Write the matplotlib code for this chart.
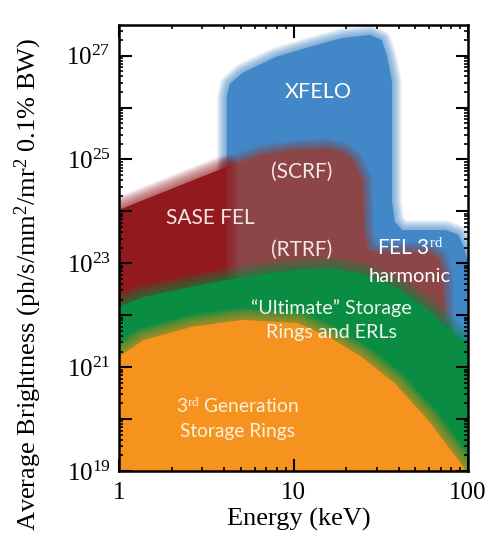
import numpy as np
import matplotlib
matplotlib.use("Agg")
import matplotlib.pyplot as plt
from matplotlib import ticker

plt.rcParams['mathtext.fontset'] = 'custom'
plt.rcParams['mathtext.rm'] = 'Liberation Serif'
plt.rcParams['mathtext.it'] = 'Liberation Serif:italic'

# outlines of each source region: energy (keV) and log10 brightness
xfelo_E = [4.14, 4.14, 4.3, 5.1, 8.0, 12.4, 19, 27.5, 32, 34.3, 36.7, 36.7, 38, 42, 75, 88, 95, 110, 110]
xfelo_B = [21.5, 26.2, 26.45, 26.67, 26.98, 27.17, 27.34, 27.4, 27.3, 27.0, 26.5, 24.2, 23.8, 23.64, 23.64, 23.55, 23.3, 22.5, 21.5]

linac_E = [4.14, 4.14, 6.5, 10, 15.5, 19, 22, 25, 25.5, 27, 30, 60, 68, 72, 73, 73]
linac_B = [21.5, 24.86, 25.09, 25.19, 25.22, 25.15, 25.0, 24.6, 23.6, 23.25, 23.22, 23.22, 23.1, 22.8, 22.2, 21.5]

sase_E = [0.9, 0.9, 4.14, 4.14]
sase_B = [21.5, 23.97, 24.86, 21.5]

ult_E = [0.9, 1, 1.38, 2.63, 4.17, 6.3, 10.5, 15.8, 24.5, 38, 59, 85, 100, 110, 110, 0.9]
ult_B = [22.17, 22.17, 22.35, 22.55, 22.68, 22.78, 22.87, 22.9, 22.8, 22.55, 22.1, 21.6, 21.45, 21.3, 18.5, 18.5]

gen3_E = [0.9, 1, 1.38, 2.63, 5.1, 10.5, 15.8, 24.5, 38, 59, 85, 100, 110, 0.9]
gen3_B = [21.1, 21.2, 21.52, 21.78, 21.91, 21.85, 21.59, 21.2, 20.69, 19.98, 19.28, 18.95, 18.5, 18.5]

regions = [
    (xfelo_E, xfelo_B, '#4287c8', 14),
    (linac_E, linac_B, '#8c4648', 14),
    (sase_E, sase_B, '#921a1e', 18),
    (ult_E, ult_B, '#0a8c42', 18),
    (gen3_E, gen3_B, '#f5931e', 18),
]

labels = [
    ('XFELO', 13.8, 26.30, 15.5, 'white'),
    ('(SCRF)', 11.2, 24.76, 15, '#f4e6e6'),
    ('SASE FEL', 3.32, 23.87, 15, '#f4e6e6'),
    ('(RTRF)', 11.2, 23.26, 15, '#f4e6e6'),
    ('FEL 3$^{\\rm rd}$', 46.5, 23.30, 15, 'white'),
    ('harmonic', 46.5, 22.74, 14.5, 'white'),
    ('\u201cUltimate\u201d Storage', 16.5, 22.14, 14.2, '#eef6ee'),
    ('Rings and ERLs', 16.5, 21.66, 14.2, '#eef6ee'),
    ('3$^{\\rm rd}$ Generation', 4.75, 20.24, 13.8, '#fdf0dc'),
    ('Storage Rings', 4.8, 19.76, 13.8, '#fdf0dc'),
]


def soft_fill(ax, E, logB, color, width):
    B = 10.0 ** np.array(logB)
    # fake blurred edges with many wide translucent strokes
    for lw in np.linspace(width, 1.5, 14):
        ax.fill(E, B, facecolor='none', edgecolor=color, lw=lw, alpha=0.065,
                joinstyle='round')
    ax.fill(E, B, facecolor=color, edgecolor='none')


fig = plt.figure(figsize=(4.89, 5.37), dpi=100)
ax = fig.add_axes([0.2434, 0.1229, 0.7137, 0.8305])

for E, B, c, w in regions:
    soft_fill(ax, E, B, c, w)

for txt, x, y, fs, c in labels:
    ax.text(x, 10 ** y, txt, ha='center', va='center', color=c,
            fontsize=fs, family='Lato')

ax.set_xscale('log')
ax.set_yscale('log')
ax.set_xlim(1, 100)
ax.set_ylim(1e19, 10 ** 27.59)

ax.yaxis.set_major_locator(ticker.FixedLocator([10.0 ** k for k in range(19, 28)]))
ax.yaxis.set_major_formatter(ticker.FuncFormatter(
    lambda v, p: '$10^{%d}$' % round(np.log10(v)) if round(np.log10(v)) % 2 == 1 else ''))
ax.yaxis.set_minor_locator(ticker.LogLocator(base=10, subs=np.arange(2, 10), numticks=20))
ax.yaxis.set_minor_formatter(ticker.NullFormatter())
ax.xaxis.set_major_locator(ticker.FixedLocator([1, 10, 100]))
ax.xaxis.set_major_formatter(ticker.FuncFormatter(lambda v, p: '%d' % v))
ax.xaxis.set_minor_locator(ticker.LogLocator(base=10, subs=np.arange(2, 10), numticks=20))
ax.xaxis.set_minor_formatter(ticker.NullFormatter())

ax.tick_params(which='both', direction='in', top=True, right=True, width=1.5,
               labelsize=18, labelfontfamily='Liberation Serif')
ax.tick_params(axis='x', pad=8)
ax.tick_params(axis='y', pad=6)
ax.tick_params(which='major', length=9)
ax.tick_params(which='minor', length=3, width=1.2)
for s in ax.spines.values():
    s.set_linewidth(1.8)

ax.set_xlabel('Energy (keV)', fontsize=19, family='Liberation Serif')
ax.set_ylabel('Average Brightness (ph/s/mm$^2$/mr$^2$ 0.1% BW)', fontsize=19,
              family='Liberation Serif')
ax.xaxis.set_label_coords(0.516, -0.083)
ax.yaxis.set_label_coords(-0.215, 0.418)

fig.savefig('out.png', dpi=100)
